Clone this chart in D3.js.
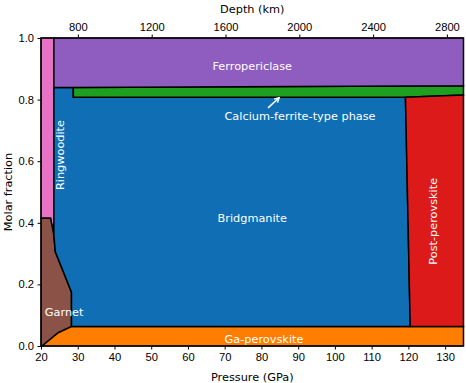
<!DOCTYPE html>
<html>
<head>
<meta charset="utf-8">
<script src="https://cdn.jsdelivr.net/npm/d3@7"></script>
<style>
  body { margin: 0; background: #fff; }
  svg { font-family: "DejaVu Sans", sans-serif; }
  .tick text { font-size: 11.2px; fill: #000; }
</style>
</head>
<body>
<div id="chart"></div>
<script>
// phase fields, [pressure GPa, cumulative molar fraction]
const ringwoodite = [[20, 0.415], [20, 1], [23.5, 1], [23.5, 0.36], [22.6, 0.415]];
const garnet = [[20, 0], [20, 0.415], [22.6, 0.415], [23.5, 0.36], [23.9, 0.306], [28.3, 0.175], [28.3, 0.063], [24.7, 0.043], [20.3, 0]];
const gaPerovskite = [[20.3, 0], [24.7, 0.043], [28.3, 0.063], [135, 0.063], [135, 0]];
const bridgmanite = [[23.5, 0.839], [28.8, 0.839], [28.8, 0.808], [119.2, 0.808], [120.5, 0.063], [28.3, 0.063], [28.3, 0.175], [23.9, 0.306], [23.5, 0.36]];
const caFerrite = [[28.8, 0.839], [135, 0.845], [135, 0.815], [119.2, 0.808], [28.8, 0.808]];
const postPerovskite = [[119.2, 0.808], [135, 0.815], [135, 0.063], [120.5, 0.063]];
const ferropericlase = [[23.5, 1], [135, 1], [135, 0.845], [28.8, 0.839], [23.5, 0.839]];

const pressureTicks = [20, 30, 40, 50, 60, 70, 80, 90, 100, 110, 120, 130];
const fractionTicks = [0, 0.2, 0.4, 0.6, 0.8, 1.0];
const depthTicks = [800, 1200, 1600, 2000, 2400, 2800];

const phases = [
  { name: "Ringwoodite", pts: ringwoodite, color: "#e872c6" },
  { name: "Garnet", pts: garnet, color: "#8b5347" },
  { name: "Ga-perovskite", pts: gaPerovskite, color: "#ff7d00" },
  { name: "Bridgmanite", pts: bridgmanite, color: "#0f6eb4" },
  { name: "Calcium-ferrite-type phase", pts: caFerrite, color: "#1f9f1f" },
  { name: "Post-perovskite", pts: postPerovskite, color: "#dc1a1a" },
  { name: "Ferropericlase", pts: ferropericlase, color: "#8f5cbf" }
];

// label positions in data units
const labels = [
  { text: "Ferropericlase", p: 77.5, f: 0.907, rot: 0 },
  { text: "Calcium-ferrite-type phase", p: 90.5, f: 0.745, rot: 0 },
  { text: "Bridgmanite", p: 77.5, f: 0.415, rot: 0 },
  { text: "Ga-perovskite", p: 80.7, f: 0.02, rot: 0 },
  { text: "Garnet", p: 26.3, f: 0.11, rot: 0 },
  { text: "Ringwoodite", p: 25.4, f: 0.62, rot: -90 },
  { text: "Post-perovskite", p: 126.7, f: 0.405, rot: -90 }
];
const arrowFrom = [81.8, 0.773];
const arrowTo = [84.8, 0.806];

const margin = { top: 38, right: 2.5, bottom: 37, left: 41 };
const W = 466, H = 383;
const width = W - margin.left - margin.right;
const height = H - margin.top - margin.bottom;

const svg = d3.select("#chart")
  .append("svg")
  .attr("width", W)
  .attr("height", H);

const g = svg.append("g")
  .attr("transform", "translate(" + margin.left + "," + margin.top + ")");

const x = d3.scaleLinear().domain([20, 135]).range([0, width]);
const y = d3.scaleLinear().domain([0, 1]).range([height, 0]);
const xDepth = d3.scaleLinear().domain([600, 2890]).range([0, width]);

const line = d3.line()
  .x(d => x(d[0]))
  .y(d => y(d[1]))
  .curve(d3.curveLinearClosed);

g.selectAll("path.phase")
  .data(phases)
  .enter()
    .append("path")
      .attr("class", "phase")
      .attr("d", d => line(d.pts))
      .attr("fill", d => d.color)
      .attr("stroke", "#000")
      .attr("stroke-width", 1.5)
      .attr("stroke-linejoin", "miter");

g.selectAll("text.lbl")
  .data(labels)
  .enter()
    .append("text")
      .attr("class", "lbl")
      .attr("transform", d => "translate(" + x(d.p) + "," + y(d.f) + ") rotate(" + d.rot + ")")
      .attr("text-anchor", "middle")
      .attr("dominant-baseline", "central")
      .attr("fill", "#fff")
      .attr("font-size", 11.3)
      .text(d => d.text);

// arrow
const ax1 = x(arrowFrom[0]), ay1 = y(arrowFrom[1]);
const ax2 = x(arrowTo[0]), ay2 = y(arrowTo[1]);
const ang = Math.atan2(ay2 - ay1, ax2 - ax1);
const hl = 5;
g.append("line")
  .attr("x1", ax1).attr("y1", ay1)
  .attr("x2", ax2).attr("y2", ay2)
  .attr("stroke", "#fff").attr("stroke-width", 1.5);
g.append("path")
  .attr("d", "M" + (ax2 - hl * Math.cos(ang - 0.5)) + "," + (ay2 - hl * Math.sin(ang - 0.5)) +
    "L" + ax2 + "," + ay2 +
    "L" + (ax2 - hl * Math.cos(ang + 0.5)) + "," + (ay2 - hl * Math.sin(ang + 0.5)))
  .attr("fill", "none").attr("stroke", "#fff").attr("stroke-width", 1.5);

// axes
g.append("g")
  .attr("transform", "translate(0," + height + ")")
  .call(d3.axisBottom(x).tickValues(pressureTicks).tickFormat(d3.format("d")).tickSizeOuter(0).tickSize(3.5).tickPadding(3.5));

g.append("g")
  .call(d3.axisLeft(y).tickValues(fractionTicks).tickFormat(d3.format(".1f")).tickSizeOuter(0).tickSize(3.5).tickPadding(3.5));

g.append("g")
  .call(d3.axisTop(xDepth).tickValues(depthTicks).tickFormat(d3.format("d")).tickSizeOuter(0).tickSize(3.5).tickPadding(3.5));

g.selectAll(".domain").remove();
g.append("rect")
  .attr("width", width).attr("height", height)
  .attr("fill", "none").attr("stroke", "#000").attr("stroke-width", 1);

g.append("text")
  .attr("x", width / 2).attr("y", height + 35)
  .attr("text-anchor", "middle")
  .attr("font-size", 11.3)
  .text("Pressure (GPa)");

g.append("text")
  .attr("x", width / 2).attr("y", -25)
  .attr("text-anchor", "middle")
  .attr("font-size", 11.3)
  .text("Depth (km)");

g.append("text")
  .attr("transform", "translate(-29," + height / 2 + ") rotate(-90)")
  .attr("text-anchor", "middle")
  .attr("font-size", 11.3)
  .text("Molar fraction");
</script>
</body>
</html>
